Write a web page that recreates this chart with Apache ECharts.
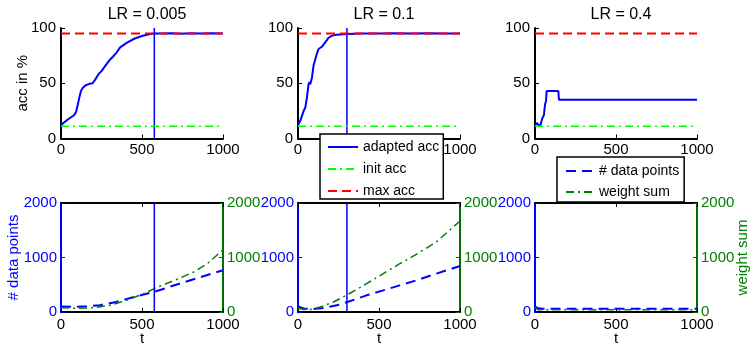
<!DOCTYPE html>
<html>
<head>
<meta charset="utf-8">
<script src="https://cdn.jsdelivr.net/npm/echarts@6/dist/echarts.min.js"></script>
<style>
html,body{margin:0;padding:0;background:#fff;}
#chart{width:751px;height:350px;}
</style>
</head>
<body>
<div id="chart"></div>
<script>
// ---------- data ----------
const titles = ['LR = 0.005', 'LR = 0.1', 'LR = 0.4'];
const tickLabelsT = [0, 500, 1000];

// adapted accuracy (top row)
const accT005 = [0, 15, 40, 60, 80, 93, 103, 113, 123, 135, 150, 175, 195, 210, 230, 250, 272, 300, 320, 344, 365, 405, 455, 505, 550, 577, 620, 680, 740, 800, 860, 920, 1000];
const acc005  = [12, 14, 17, 19, 21, 24, 30, 37, 43, 46, 48, 49.5, 50, 53, 58, 61, 65.5, 71, 74, 78, 82.5, 86.5, 90.5, 93, 94.5, 95, 95, 95.3, 94.8, 95.3, 95, 95.2, 95];
const accT01  = [0, 14, 35, 45, 55, 65, 70, 76, 86, 96, 106, 117, 127, 147, 168, 188, 209, 239, 305, 400, 500, 600, 700, 800, 900, 1000];
const acc01   = [12, 16, 25, 28, 37, 49, 51, 49, 55, 66, 67.5, 77, 81, 83, 87, 91, 93, 94, 94.5, 95, 95, 95.2, 95, 95.2, 95, 95];
const accT04  = [0, 10, 21, 31, 41, 47, 55, 62, 68, 72, 144, 148, 1000];
const acc04   = [11.5, 14, 14, 11, 11, 19, 21, 31, 34, 43, 43, 35, 35];
const initAcc = [11, 11, 11];
const maxAcc  = [95, 95, 95];
const switchT = [576, 302, null];

// number of data points / weight sum (bottom row)
const dpT005 = [0, 100, 160, 240, 340, 450, 576, 700, 860, 1000];
const dp005  = [100, 95, 105, 125, 185, 275, 370, 490, 640, 765];
const wsT005 = [0, 100, 200, 300, 400, 510, 576, 700, 820, 900, 1000];
const ws005  = [80, 65, 80, 120, 210, 335, 430, 580, 735, 880, 1140];
const dpT01  = [0, 35, 86, 157, 239, 305, 423, 526, 628, 730, 853, 1000];
const dp01   = [100, 65, 50, 75, 122, 183, 306, 397, 489, 580, 703, 843];
const wsT01  = [0, 35, 76, 137, 219, 305, 423, 526, 628, 730, 853, 1000];
const ws01   = [75, 45, 45, 92, 183, 318, 519, 703, 886, 1057, 1283, 1670];
const dpT04  = [0, 15, 40, 1000];
const dp04   = [100, 75, 60, 60];
const wsT04  = [0, 20, 1000];
const ws04   = [80, 40, 40];

// ---------- build ----------
const FONT = 'Liberation Sans, Arial, Helvetica, sans-serif';
const BLUE = '#0000ff', GREEN = '#00ff00', RED = '#ff0000', DGREEN = '#008000', DGREEN_AX = '#006f00';
const zip = (a, b) => a.map((v, i) => [v, b[i]]);
const accT = [accT005, accT01, accT04], acc = [acc005, acc01, acc04];
const dpT = [dpT005, dpT01, dpT04], dp = [dp005, dp01, dp04];
const wsT = [wsT005, wsT01, wsT04], ws = [ws005, ws01, ws04];

const lefts = [61, 298, 535];
const W = 162;
const grid = [], xAxis = [], yAxis = [], series = [], title = [];
const tick = {show: true, inside: true, length: 4, lineStyle: {color: '#000', width: 1}};
const plain = v => String(v);

lefts.forEach((l, g) => {
  grid.push({left: l, top: 28, width: W, height: 110.5});
  title.push({text: titles[g], left: l + W / 2, top: 2, textAlign: 'center',
    textStyle: {fontFamily: FONT, fontSize: 16, fontWeight: 'normal', color: '#000'}});
});
lefts.forEach((l, g) => grid.push({left: l, top: 203, width: W, height: 109}));

const tLabel = {fontFamily: FONT, fontSize: 15, color: '#000', margin: 4,
  formatter: v => tickLabelsT.includes(v) ? String(v) : ''};

// x axes: 0-2 top, 3-5 bottom, 6-8 bottom-top border
for (let g = 0; g < 3; g++) xAxis.push({type: 'value', gridIndex: g, min: 0, max: 1000, interval: 500,
  axisLine: {show: true, onZero: false, lineStyle: {color: '#000', width: 2}}, axisTick: tick, splitLine: {show: false}, axisLabel: tLabel});
for (let g = 0; g < 3; g++) xAxis.push({type: 'value', gridIndex: 3 + g, min: 0, max: 1000, interval: 500,
  name: 't', nameLocation: 'middle', nameGap: 19, nameMoveOverlap: false,
  nameTextStyle: {fontFamily: FONT, fontSize: 15, color: '#000'},
  axisLine: {show: true, onZero: false, lineStyle: {color: '#000', width: 2}}, axisTick: tick, splitLine: {show: false},
  axisLabel: Object.assign({}, tLabel, {margin: 5})});
for (let g = 0; g < 3; g++) xAxis.push({type: 'value', gridIndex: 3 + g, position: 'top', min: 0, max: 1000, interval: 500,
  axisLine: {show: true, onZero: false, lineStyle: {color: '#000', width: 2}}, axisTick: tick, splitLine: {show: false}, axisLabel: {show: false}});

// y axes: 0-2 top acc, 3-5 bottom left, 6-8 bottom right
for (let g = 0; g < 3; g++) yAxis.push({type: 'value', gridIndex: g, min: 0, max: 100, interval: 50,
  name: g === 0 ? 'acc in %' : '', nameLocation: 'middle', nameGap: 31, nameRotate: 90, nameMoveOverlap: false,
  nameTextStyle: {fontFamily: FONT, fontSize: 15, color: '#000'},
  axisLine: {show: true, onZero: false, lineStyle: {color: '#000', width: 2}}, axisTick: tick, splitLine: {show: false},
  axisLabel: {fontFamily: FONT, fontSize: 15, color: '#000', margin: 5, formatter: plain}});
for (let g = 0; g < 3; g++) yAxis.push({type: 'value', gridIndex: 3 + g, min: 0, max: 2000, interval: 1000,
  name: g === 0 ? '# data points' : '', nameLocation: 'middle', nameGap: 40, nameRotate: 90, nameMoveOverlap: false,
  nameTextStyle: {fontFamily: FONT, fontSize: 15, color: BLUE},
  axisLine: {show: true, onZero: false, lineStyle: {color: BLUE, width: 2}},
  axisTick: {show: true, inside: true, length: 4, lineStyle: {color: BLUE}}, splitLine: {show: false},
  axisLabel: {fontFamily: FONT, fontSize: 15, color: BLUE, margin: 4, formatter: plain}});
for (let g = 0; g < 3; g++) yAxis.push({type: 'value', gridIndex: 3 + g, position: 'right', min: 0, max: 2000, interval: 1000,
  name: g === 2 ? 'weight sum' : '', nameLocation: 'middle', nameGap: 38, nameRotate: 90, nameMoveOverlap: false,
  nameTextStyle: {fontFamily: FONT, fontSize: 15, color: DGREEN},
  axisLine: {show: true, onZero: false, lineStyle: {color: DGREEN_AX, width: 2}},
  axisTick: {show: true, inside: true, length: 4, lineStyle: {color: DGREEN_AX}}, splitLine: {show: false},
  axisLabel: {fontFamily: FONT, fontSize: 15, color: DGREEN, margin: 4, formatter: plain}});

const line = (name, xi, yi, data, color, width, type, z) => ({
  name, type: 'line', xAxisIndex: xi, yAxisIndex: yi, data, symbol: 'none', showSymbol: false,
  silent: true, z: z || 2, lineStyle: {color, width, type: type || 'solid'}, itemStyle: {color}
});

for (let g = 0; g < 3; g++) {
  series.push(line('adapted acc', g, g, zip(accT[g], acc[g]), BLUE, 2, 'solid', 3));
  series.push(line('init acc', g, g, [[0, initAcc[g]], [1000, initAcc[g]]], GREEN, 1.5, [8, 4, 2, 4], 4));
  series.push(line('max acc', g, g, [[0, maxAcc[g]], [1000, maxAcc[g]]], RED, 2, [9, 5], 5));
  if (switchT[g] !== null) series.push(line('switch', g, g, [[switchT[g], 0], [switchT[g], 100]], BLUE, 1.5, 'solid', 3));
  series.push(line('# data points', 3 + g, 3 + g, zip(dpT[g], dp[g]), BLUE, 2, [10, 6], 3));
  series.push(line('weight sum', 3 + g, 6 + g, zip(wsT[g], ws[g]), DGREEN, 1.5, [8, 4, 2, 4], 3));
  if (switchT[g] !== null) series.push(line('switch', 3 + g, 3 + g, [[switchT[g], 0], [switchT[g], 2000]], BLUE, 1.5, 'solid', 3));
}

const legendBase = {orient: 'vertical', selectedMode: false, backgroundColor: '#fff', borderColor: '#000',
  borderWidth: 1.5, borderRadius: 0, z: 20, itemHeight: 14,
  itemStyle: {opacity: 0},
  textStyle: {fontFamily: FONT, fontSize: 14, color: '#000'}};

const option = {
  animation: false,
  backgroundColor: '#fff',
  title, grid, xAxis, yAxis, series,
  legend: [
    Object.assign({}, legendBase, {data: ['adapted acc', 'init acc', 'max acc'], left: 320, top: 134,
      itemWidth: 30, itemGap: 8, padding: [6, 4, 1, 7]}),
    Object.assign({}, legendBase, {data: ['# data points', 'weight sum'], left: 557, top: 157,
      itemWidth: 28, itemGap: 7, padding: [7, 5, 3, 8]})
  ]
};

const chart = echarts.init(document.getElementById('chart'), null, {renderer: 'canvas'});
chart.setOption(option);
</script>
</body>
</html>
